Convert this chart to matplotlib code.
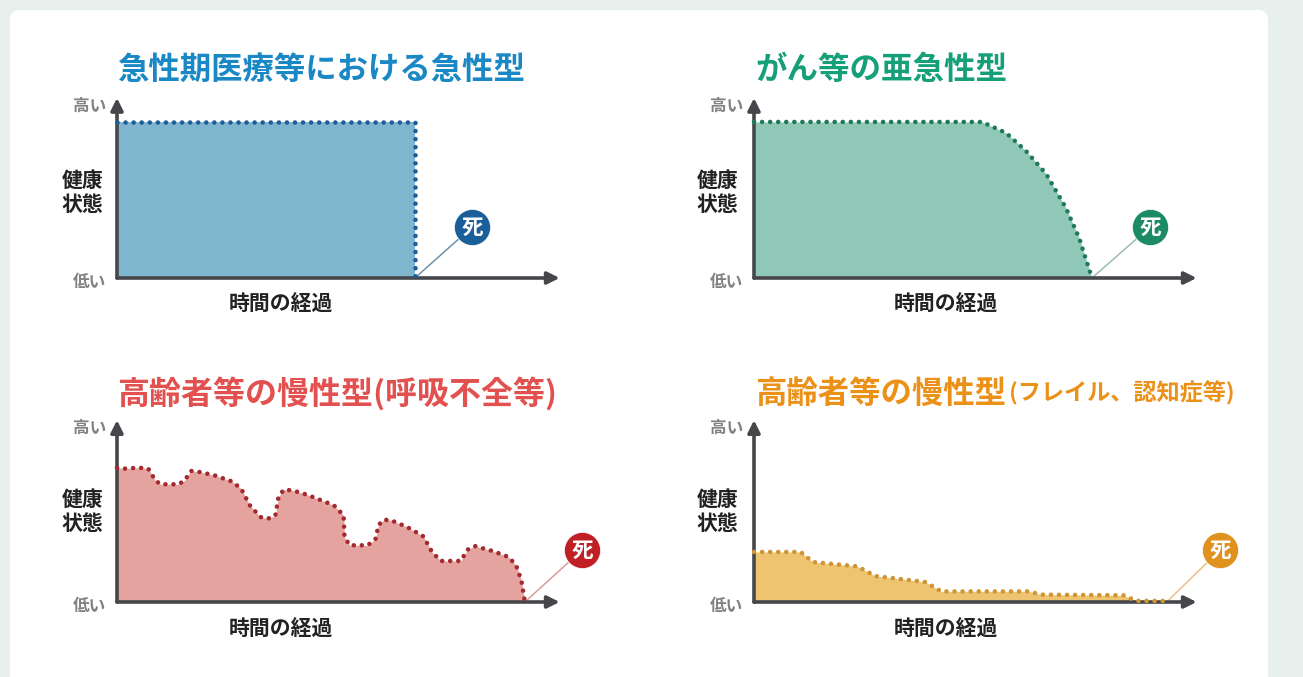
import matplotlib
matplotlib.use('Agg')
import matplotlib.pyplot as plt
from matplotlib.patches import FancyBboxPatch

plt.rcParams['font.family'] = ['Noto Sans CJK JP', 'DejaVu Sans']

W, H = 1303, 677

# time (0-100) / health (0-100)
acute_time = [0, 67.7, 67.7]
acute_health = [86.7, 86.7, 0]

cancer_time = [0, 51.8, 57.3, 61.8, 66.4, 70.9, 73.9, 76.8]
cancer_health = [86.7, 86.7, 80.6, 70.6, 57.8, 38.9, 22.2, 0]

organ_time = [0, 1.8, 5.0, 7.1, 8.7, 9.9, 14.0, 15.4, 16.8, 18.8, 22.1, 26.1, 28.2, 30.2,
              32.6, 34.3, 36.0, 36.7, 37.9, 39.9, 43.2, 49.3, 51.5, 51.7, 52.9, 57.0, 58.8,
              59.4, 60.6, 62.3, 65.9, 69.6, 71.6, 73.6, 78.1, 79.7, 81.3, 85.4, 89.0, 90.7,
              91.9, 92.7]
organ_health = [74.6, 74.1, 74.6, 74.1, 67.6, 65.4, 65.4, 67.6, 72.8, 72.2, 70.4, 67.0, 63.0,
                53.7, 47.2, 46.3, 48.1, 58.3, 62.4, 62.0, 59.6, 53.7, 48.1, 36.1, 31.5, 31.5,
                35.2, 42.6, 45.7, 45.4, 41.7, 36.5, 27.8, 22.8, 22.8, 29.1, 31.1, 28.3, 25.0,
                20.4, 12.0, 0]

frail_time = [0, 10.6, 13.4, 23.5, 27.6, 39.0, 42.5, 62.5, 65.3, 84.0, 86.9, 93.8]
frail_health = [27.8, 27.8, 22.2, 19.8, 14.4, 11.1, 5.9, 5.9, 4.1, 3.7, 0.6, 0.6]

titles = ['急性期医療等における急性型', 'がん等の亜急性型', '高齢者等の慢性型(呼吸不全等)', '高齢者等の慢性型']
subtitle = '(フレイル、認知症等)'

death_time = [80.7, 90.0, 105.7, 105.9]
death_health = [28.3, 28.3, 28.9, 28.9]

fig = plt.figure(figsize=(W / 100, H / 100), dpi=100, facecolor='#e8f0ed')

# white card behind the charts
card = FancyBboxPatch((10 / W, -20 / H), 1258 / W, 687 / H, boxstyle='round,pad=0,rounding_size=0.008',
                      transform=fig.transFigure, facecolor='white', edgecolor='none',
                      mutation_aspect=W / H, zorder=-1)
fig.add_artist(card)


def draw_panel(ox, oy, tx, time, health, title, title_size, title_color, fill, dot, circle, stem, death):
    ax = fig.add_axes([ox / W, (H - oy) / H, 440 / W, 180 / H])
    ax.set_xlim(0, 100)
    ax.set_ylim(0, 100)
    ax.axis('off')

    ax.fill_between(time, health, 0, color=fill, lw=0, clip_on=False)
    ax.plot(time, health, color=dot, lw=3.3, linestyle=(0, (0.01, 1.75)),
            dash_capstyle='round', clip_on=False, zorder=5)

    # line from the end of the curve up to the death marker
    ax.plot([time[-1], death[0]], [0, death[1]], color=stem, lw=1.1, clip_on=False, zorder=2)
    ax.plot(death[0], death[1], 'o', ms=26, color=circle, mec='white', mew=0.5, clip_on=False, zorder=5)
    ax.text(death[0], death[1], '死', color='white', fontsize=15.5, fontweight='bold',
            ha='center', va='center', zorder=6)

    # axes arrows
    top = 100 if oy < 400 else 101
    for end in [(100.6, 0), (0, top)]:
        ax.annotate('', xy=end, xytext=(0, 0), zorder=4, annotation_clip=False,
                    arrowprops=dict(arrowstyle='-|>', color='#45474a', lw=2.6, mutation_scale=18,
                                    shrinkA=0, shrinkB=0))

    # bottom row labels sit a little higher, right column labels a little further left
    dy = 0 if oy < 400 else 2.6
    dx = 0 if ox < 500 else -0.5
    ax.text(-6.3, 95.6 + dy * 0.4, '高い', color='#808284', fontsize=12, fontweight='bold', ha='center', va='center')
    ax.text(-6.3, -2, '低い', color='#808284', fontsize=12, fontweight='bold', ha='center', va='center')
    ax.text(-7.8 + dx, 54.4 + dy, '健康', color='#222222', fontsize=15, fontweight='bold', ha='center', va='center')
    ax.text(-7.8 + dx, 41.1 + dy, '状態', color='#222222', fontsize=15, fontweight='bold', ha='center', va='center')
    ax.text(37.3 if ox < 500 else 43.6, -14.4 - dy * 0.2, '時間の経過', color='#222222', fontsize=15,
            fontweight='bold', ha='center', va='center')

    fig.text(tx / W, (H - oy + 208) / H, title, color=title_color, fontsize=title_size,
             fontweight='bold', ha='left', va='center')


draw_panel(117, 278, 117, acute_time, acute_health, titles[0], 22.6, '#1b88c6',
           '#7fb6ce', '#1d5d97', '#1a5f9a', '#6d93ad', (death_time[0], death_health[0]))
draw_panel(754, 278, 755, cancer_time, cancer_health, titles[1], 22.7, '#16a079',
           '#90c8b8', '#1f7a5c', '#1c8a66', '#9dbcb0', (death_time[1], death_health[1]))
draw_panel(117, 602, 117, organ_time, organ_health, titles[2], 23, '#e2514f',
           '#e5a3a0', '#a52a30', '#c01f26', '#dd9c9c', (death_time[2], death_health[2]))
draw_panel(754, 602, 755, frail_time, frail_health, titles[3], 22.6, '#ec9118',
           '#eec470', '#cf9434', '#e0921f', '#ecc088', (death_time[3], death_health[3]))

fig.text(1009 / W, (H - 393) / H, subtitle, color='#ec9118', fontsize=16.7, fontweight='bold',
         ha='left', va='center')

fig.savefig('out.png', dpi=100, facecolor=fig.get_facecolor())
